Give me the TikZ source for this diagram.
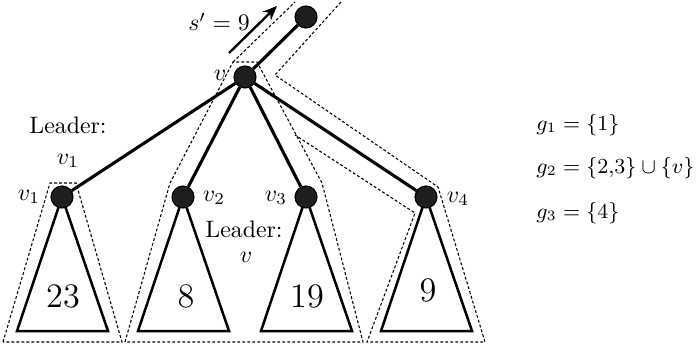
\documentclass[tikz,border=0pt]{standalone}
\usetikzlibrary{arrows.meta,backgrounds}
\begin{document}
\begin{tikzpicture}[x=0.42pt,y=-0.42pt,
  dot/.style={circle,fill=black!88,draw=black,line width=0.5pt,minimum size=9.2pt,inner sep=0pt},
  edge/.style={line width=1.3pt},
  tri/.style={line width=1.05pt,line join=miter},
  grp/.style={line width=0.45pt,dash pattern=on 1.2pt off 0.9pt},
  lbl/.style={inner sep=1pt},
  num/.style={inner sep=1pt,font=\Large},
  gset/.style={anchor=west,inner sep=0pt,font=\small}]
\useasboundingbox (0,0) rectangle (699,344);
% dashed group outlines
\draw[grp] (3,342) -- (50,183) -- (76,183) -- (122,342) -- cycle;
\draw[grp] (125,342) -- (170,183) -- (233,62) -- (257,62) -- (322,183) -- (363,342) -- cycle;
\draw[grp] (233,62) -- (295,2);
\draw[grp] (341,2) -- (275,75) -- (438,187) -- (485,342) -- (367,342) -- (415,213) -- (295,135);
% nodes
\node[dot] (top) at (306,17) {};
\node[dot] (v) at (245,77) {};
\node[dot] (v1) at (62,197) {};
\node[dot] (v2) at (183,197) {};
\node[dot] (v3) at (306,197) {};
\node[dot] (v4) at (426,197) {};
% subtrees
\begin{pgfonlayer}{background}
\draw[tri] (v1.center) -- ++(-45,134) -- ++(91,0) -- cycle;
\draw[tri] (v2.center) -- ++(-45,134) -- ++(91,0) -- cycle;
\draw[tri] (v3.center) -- ++(-45,134) -- ++(91,0) -- cycle;
\draw[tri] (v4.center) -- ++(-45,134) -- ++(91,0) -- cycle;
\end{pgfonlayer}
% edges
\draw[edge] (v) -- (top);
\draw[edge] (v) -- (v1);
\draw[edge] (v) -- (v2);
\draw[edge] (v) -- (v3);
\draw[edge] (v) -- (v4);
% labels
\node[lbl] (lv1) at (29,197) {$v_1$};
\node[lbl] (lv2) at (214,198) {$v_2$};
\node[lbl] (lv3) at (276,198) {$v_3$};
\node[lbl] (lv4) at (458,199) {$v_4$};
\node[lbl] (lv) at (220,75) {$v$};
\node[lbl] (ld1) at (68,125) {Leader:};
\node[lbl] (ld1v) at (68,161) {$v_1$};
\node[lbl] (ld2) at (244,229) {Leader:};
\node[lbl] (ld2v) at (246,257) {$v$};
\node[num] (n1) at (63,296) {23};
\node[num] (n2) at (186,296) {8};
\node[num] (n3) at (307,296) {19};
\node[num] (n4) at (428,290) {9};
% s' arrow
\node[lbl] (s) at (219,22) {$s'=9$};
\coordinate (a1) at (229,53);
\coordinate (a2) at (277,6);
\draw[line width=1pt,-{Stealth[length=6pt,width=5pt]}] (a1) -- (a2);
% group sets
\node[gset] (g1) at (536,125) {$g_1 = \{1\}$};
\node[gset] (g2) at (536,168) {$g_2 = \{2{,}3\} \cup \{v\}$};
\node[gset] (g3) at (536,213) {$g_3 = \{4\}$};
\end{tikzpicture}
\end{document}
